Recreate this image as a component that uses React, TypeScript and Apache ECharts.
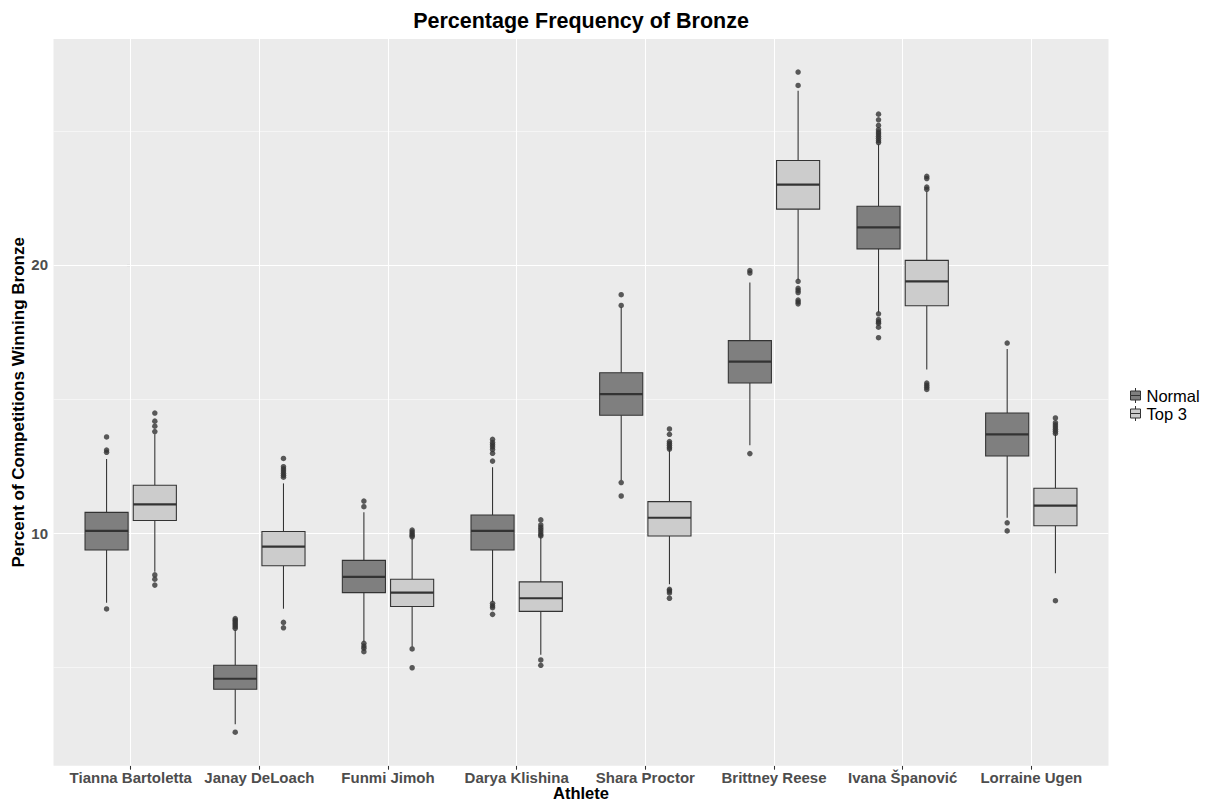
import React, { useEffect, useRef } from "react";
import * as echarts from "echarts";

const CATEGORIES = [
  "Tianna Bartoletta",
  "Janay DeLoach",
  "Funmi Jimoh",
  "Darya Klishina",
  "Shara Proctor",
  "Brittney Reese",
  "Ivana Španović",
  "Lorraine Ugen",
];

const GROUPS = ["Normal", "Top 3"];

// [lower whisker, Q1, median, Q3, upper whisker]
const NORMAL_BOX = [
  [7.41, 9.38, 10.09, 10.78, 12.77],
  [2.88, 4.19, 4.58, 5.08, 6.4],
  [5.96, 7.79, 8.38, 8.99, 10.78],
  [7.45, 9.38, 10.09, 10.68, 12.46],
  [11.99, 14.4, 15.19, 15.98, 18.42],
  [13.28, 15.6, 16.4, 17.18, 19.35],
  [18.23, 20.6, 21.4, 22.19, 24.5],
  [10.58, 12.88, 13.69, 14.48, 16.87],
];

const TOP3_BOX = [
  [8.57, 10.48, 11.08, 11.79, 13.69],
  [7.19, 8.79, 9.5, 10.07, 11.86],
  [5.77, 7.27, 7.79, 8.29, 9.81],
  [5.47, 7.09, 7.58, 8.19, 9.87],
  [8.1, 9.9, 10.58, 11.18, 13.1],
  [19.44, 22.08, 22.99, 23.89, 26.49],
  [16.1, 18.48, 19.39, 20.17, 22.74],
  [8.51, 10.28, 11.03, 11.68, 13.7],
];

const NORMAL_OUTLIERS = [
  [13.59, 13.1, 13.02, 7.18],
  [6.82, 6.76, 6.7, 6.64, 6.58, 6.52, 6.46, 2.59],
  [11.2, 10.99, 5.9, 5.8, 5.72, 5.59],
  [13.5, 13.38, 13.3, 13.22, 13.12, 12.98, 12.69, 7.39, 7.3, 7.23, 6.98],
  [18.89, 18.49, 11.89, 11.39],
  [19.79, 19.7, 12.97],
  [25.62, 25.41, 25.2, 25.04, 24.95, 24.88, 24.8, 24.72, 24.63, 24.56, 18.18, 17.96, 17.88, 17.83, 17.68, 17.29],
  [17.09, 10.39, 10.09],
];

const TOP3_OUTLIERS = [
  [14.48, 14.18, 13.99, 13.79, 8.45, 8.29, 8.07],
  [12.79, 12.48, 12.4, 12.32, 12.24, 12.16, 12.09, 6.68, 6.48],
  [10.12, 10.05, 9.98, 9.92, 9.87, 5.69, 4.99],
  [10.5, 10.31, 10.22, 10.14, 10.05, 9.96, 9.9, 5.28, 5.08],
  [13.89, 13.69, 13.42, 13.35, 13.28, 13.2, 13.14, 7.91, 7.85, 7.78, 7.58],
  [27.19, 26.69, 19.39, 19.13, 19.05, 18.97, 18.69, 18.62, 18.55],
  [23.3, 23.22, 22.9, 22.82, 15.6, 15.52, 15.44, 15.36],
  [14.3, 14.12, 14.04, 13.96, 13.88, 13.8, 13.72, 7.49],
];

const Y_TICKS = [10, 20];
const Y_MINOR = [5, 15, 25];
const Y_MIN = 1.34;
const Y_MAX = 28.42;

const FONT = "'Liberation Sans', Arial, Helvetica, sans-serif";
const DODGE = 0.1875;
const BOX_WIDTH = 0.335;
const FILLS = ["#7F7F7F", "#CCCCCC"];
const LINE = "#333333";

const LEGEND_ICON = "path://M5,0L5,3M0,3L10,3L10,7.5L0,7.5ZM0,7.5L10,7.5L10,12L0,12ZM5,12L5,15";

function boxData(boxes: number[][], offset: number) {
  return boxes.map((b, i) => [i + offset, ...b]);
}

function outlierData(outs: number[][], offset: number) {
  const res: number[][] = [];
  outs.forEach((arr, i) => arr.forEach((v) => res.push([i + offset, v])));
  return res;
}

function makeRenderItem(fill: string) {
  return (params: any, api: any) => {
    const x = api.value(0);
    const lo = api.coord([x, api.value(1)]);
    const q1 = api.coord([x, api.value(2)]);
    const md = api.coord([x, api.value(3)]);
    const q3 = api.coord([x, api.value(4)]);
    const hi = api.coord([x, api.value(5)]);
    const w = api.size([BOX_WIDTH, 0])[0];
    const cx = lo[0];
    const lineStyle = { stroke: LINE, lineWidth: 1.07 };
    return {
      type: "group",
      children: [
        { type: "line", shape: { x1: cx, y1: hi[1], x2: cx, y2: q3[1] }, style: lineStyle },
        { type: "line", shape: { x1: cx, y1: q1[1], x2: cx, y2: lo[1] }, style: lineStyle },
        {
          type: "rect",
          shape: { x: cx - w / 2, y: q3[1], width: w, height: q1[1] - q3[1] },
          style: { fill, stroke: LINE, lineWidth: 1.07 },
        },
        {
          type: "line",
          shape: { x1: cx - w / 2, y1: md[1], x2: cx + w / 2, y2: md[1] },
          style: { stroke: LINE, lineWidth: 2.2 },
        },
      ],
    };
  };
}

export default function App() {
  const ref = useRef<HTMLDivElement>(null);

  useEffect(() => {
    if (!ref.current) return;
    const chart = echarts.init(ref.current, undefined, { renderer: "svg" });

    const major = { color: "#FFFFFF", width: 1.07, type: "solid" };
    const minor = { color: "#FFFFFF", width: 0.53, type: "solid" };

    const option: any = {
      animation: false,
      textStyle: { fontFamily: FONT },
      title: {
        text: "Percentage Frequency of Bronze",
        left: 576,
        top: 5,
        textAlign: "center",
        textStyle: { fontFamily: FONT, fontSize: 21.5, fontWeight: "bold", color: "#000" },
      },
      legend: {
        orient: "vertical",
        left: 1125,
        top: 382,
        itemWidth: 12,
        itemHeight: 15,
        itemGap: 1,
        selectedMode: false,
        textStyle: { fontFamily: FONT, fontSize: 16.5, color: "#000" },
        data: GROUPS.map((g, i) => ({
          name: g,
          icon: LEGEND_ICON,
          itemStyle: { color: FILLS[i], borderColor: LINE, borderWidth: 1 },
        })),
      },
      grid: {
        left: 53.5,
        top: 39,
        width: 1055,
        height: 726.7,
        outerBoundsMode: "none",
        containLabel: false,
        show: true,
        backgroundColor: "#EBEBEB",
        borderWidth: 0,
      },
      xAxis: {
        type: "value",
        min: -0.6,
        max: 7.6,
        name: "Athlete",
        nameLocation: "middle",
        nameGap: 19,
        nameMoveOverlap: false,
        nameTextStyle: { fontFamily: FONT, fontSize: 16.5, fontWeight: "bold", color: "#000" },
        axisLine: { show: false },
        splitLine: { show: false },
        axisTick: {
          show: true,
          customValues: CATEGORIES.map((_, i) => i),
          length: 4,
          lineStyle: { color: LINE, width: 1.07 },
        },
        axisLabel: {
          customValues: CATEGORIES.map((_, i) => i),
          formatter: (v: number) => CATEGORIES[Math.round(v)] ?? "",
          margin: 4,
          fontFamily: FONT,
          fontSize: 15,
          fontWeight: "bold",
          color: "#4D4D4D",
        },
      },
      yAxis: {
        type: "value",
        min: Y_MIN,
        max: Y_MAX,
        name: "Percent of Competitions Winning Bronze",
        nameLocation: "middle",
        nameGap: 27,
        nameMoveOverlap: false,
        nameTextStyle: { fontFamily: FONT, fontSize: 17, fontWeight: "bold", color: "#000" },
        axisLine: { show: false },
        splitLine: { show: false },
        axisTick: {
          show: true,
          customValues: Y_TICKS,
          length: 4,
          lineStyle: { color: LINE, width: 1.07 },
        },
        axisLabel: {
          customValues: Y_TICKS,
          margin: 5.5,
          fontFamily: FONT,
          fontSize: 15,
          fontWeight: "bold",
          color: "#4D4D4D",
        },
      },
      series: [
        {
          name: "Normal",
          type: "custom",
          z: 3,
          itemStyle: { color: FILLS[0] },
          encode: { x: 0, y: [1, 2, 3, 4, 5] },
          renderItem: makeRenderItem(FILLS[0]),
          data: boxData(NORMAL_BOX, -DODGE),
        },
        {
          name: "Top 3",
          type: "custom",
          z: 3,
          itemStyle: { color: FILLS[1] },
          encode: { x: 0, y: [1, 2, 3, 4, 5] },
          renderItem: makeRenderItem(FILLS[1]),
          data: boxData(TOP3_BOX, DODGE),
        },
        {
          name: "Normal outliers",
          type: "scatter",
          z: 4,
          symbolSize: 5.5,
          itemStyle: { color: LINE },
          data: outlierData(NORMAL_OUTLIERS, -DODGE),
          markLine: {
            silent: true,
            z: 1,
            animation: false,
            symbol: ["none", "none"],
            label: { show: false },
            emphasis: { disabled: true },
            data: [
              ...Y_MINOR.map((v) => ({ yAxis: v, lineStyle: minor })),
              ...Y_TICKS.map((v) => ({ yAxis: v, lineStyle: major })),
              ...CATEGORIES.map((_, i) => ({ xAxis: i, lineStyle: major })),
            ],
          },
        },
        {
          name: "Top 3 outliers",
          type: "scatter",
          z: 4,
          symbolSize: 5.5,
          itemStyle: { color: LINE },
          data: outlierData(TOP3_OUTLIERS, DODGE),
        },
      ],
    };

    chart.setOption(option);
    return () => chart.dispose();
  }, []);

  return (
    <div
      ref={ref}
      style={{ position: "fixed", left: 0, top: 0, width: 1214, height: 803, background: "#fff" }}
    />
  );
}
